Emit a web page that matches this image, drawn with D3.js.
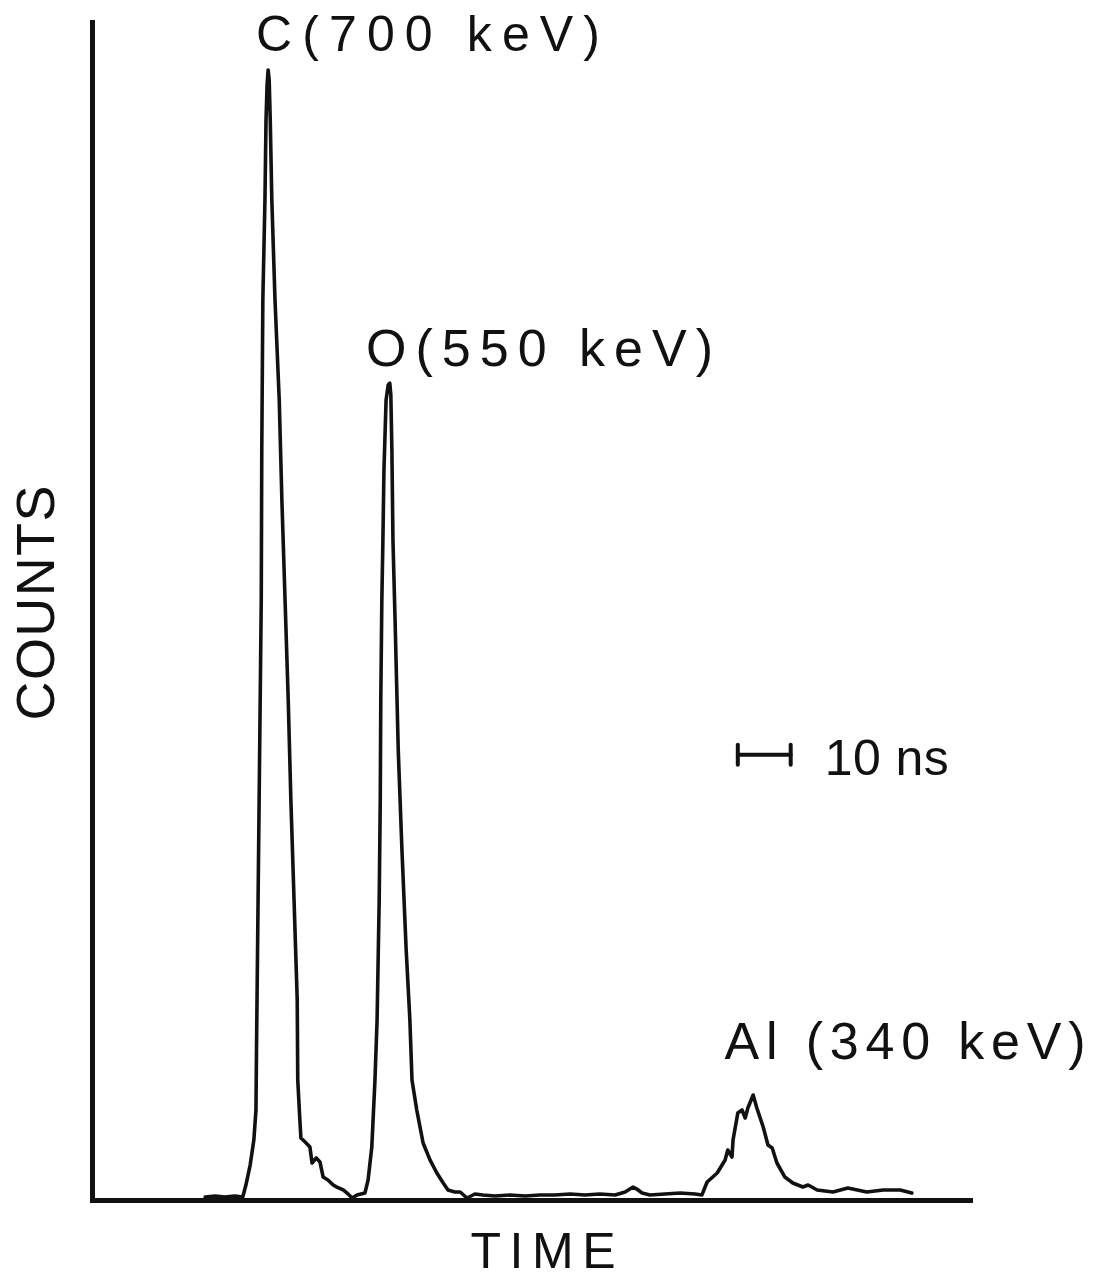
<!DOCTYPE html>
<html>
<head>
<meta charset="utf-8">
<script src="https://cdn.jsdelivr.net/npm/d3@7"></script>
<style>
  html, body { margin: 0; padding: 0; background: #fff; }
  svg { display: block; }
  text { font-family: "Liberation Sans", "DejaVu Sans", sans-serif; fill: #111; }
</style>
</head>
<body>
<svg id="chart" width="1104" height="1280"></svg>
<script>
// Time-of-flight spectrum: time in ns, counts in arbitrary units
const timeNs = [
  21.4, 23.3, 25.1, 27.0, 28.5, 29.1, 29.9, 30.6, 31.0, 31.1, 31.4, 31.6, 31.8, 32.0, 32.1, 32.3,
  32.7, 32.9, 33.1, 33.3, 33.5, 33.7, 34.0, 34.6, 35.4, 35.9, 36.5, 37.1, 37.6, 38.2, 38.8, 38.9,
  39.3, 39.5, 40.3, 41.2, 41.6, 42.4, 43.1, 43.7, 44.6, 45.6, 46.3, 47.5, 48.4, 49.2, 50.1, 51.6,
  52.2, 52.9, 53.5, 53.9, 54.3, 54.5, 54.6, 54.8, 55.0, 55.2, 55.6, 56.0, 56.3, 56.5, 56.7, 56.9,
  57.3, 57.9, 58.6, 59.4, 60.1, 60.5, 61.4, 62.6, 63.9, 65.2, 66.4, 67.3, 68.6, 69.6, 70.9, 72.4,
  73.9, 76.2, 79.0, 81.9, 84.7, 87.5, 90.4, 93.2, 96.0, 98.9, 100.8, 101.7, 102.3, 103.0, 104.0, 105.5,
  108.3, 111.2, 114.0, 115.3, 116.3, 118.2, 119.7, 120.2, 121.0, 121.2, 122.1, 122.9, 123.5, 124.0, 125.0, 125.7,
  126.9, 127.8, 128.6, 129.5, 131.0, 132.5, 134.4, 135.4, 137.1, 140.1, 142.9, 146.5, 149.6, 152.8, 155.0
];
const counts = [
  2.5, 3.4, 2.5, 3.4, 2.5, 12.7, 29.7, 50.9, 76.4, 127.3, 254.7, 339.6, 424.4, 509.3, 636.7, 764.0,
  848.9, 916.8, 946.5, 959.3, 950.8, 916.8, 848.9, 764.0, 679.1, 594.2, 509.3, 424.4, 339.6, 254.7, 169.8, 101.9,
  67.9, 52.6, 49.2, 45.0, 31.4, 35.7, 32.3, 19.5, 17.0, 12.7, 11.0, 8.5, 5.1, 1.7, 4.2, 5.9,
  17.0, 45.0, 101.9, 152.8, 254.7, 339.6, 424.4, 509.3, 560.3, 619.7, 679.1, 691.9, 693.5, 683.4, 636.7, 560.3,
  492.4, 382.0, 297.1, 212.2, 152.8, 101.9, 76.4, 48.4, 34.0, 22.9, 14.4, 8.5, 6.8, 6.8, 1.7, 5.1,
  4.2, 3.4, 4.2, 3.4, 4.2, 4.2, 5.1, 4.2, 5.1, 4.2, 6.8, 9.3, 11.0, 9.3, 5.9, 4.2,
  5.1, 5.9, 5.1, 4.2, 15.3, 22.9, 34.0, 42.4, 36.5, 50.9, 73.9, 76.4, 69.6, 78.1, 89.1, 78.1,
  62.0, 46.7, 44.1, 31.4, 19.5, 14.4, 11.0, 12.7, 8.5, 6.8, 10.2, 6.8, 8.5, 8.5, 5.9
];

// Peak labels: text and the (time, counts) point each one sits above
const peakLabels = ["C(700 keV)", "O(550 keV)", "Al (340 keV)"];
const labelTime = [31.0, 51.8, 119.6];
const labelCounts = [975, 708, 120];

// Time scale bar
const scaleBarNs = 10;
const scaleBarStart = 122.1;
const scaleBarCounts = 378;
const scaleBarLabel = "10 ns";

const svg = d3.select("#chart");

const x = d3.scaleLinear().domain([0, 166]).range([92, 970]);
const y = d3.scaleLinear().domain([0, 1000]).range([1200, 22]);

// Axes: bare lines, no ticks
const axisStyle = g => g.selectAll("path.domain")
  .attr("stroke", "#111").attr("stroke-width", 5).attr("stroke-linecap", "square");

svg.append("g")
  .attr("transform", `translate(0,${y(0)})`)
  .call(d3.axisBottom(x).tickValues([]).tickSizeOuter(0))
  .call(axisStyle);

svg.append("g")
  .attr("transform", `translate(${x(0)},0)`)
  .call(d3.axisLeft(y).tickValues([]).tickSizeOuter(0))
  .call(axisStyle);

// Spectrum trace
const pts = timeNs.map((t, i) => [t, counts[i]]);
svg.append("path")
  .datum(pts)
  .attr("fill", "none")
  .attr("stroke", "#111")
  .attr("stroke-width", 3.6)
  .attr("stroke-linejoin", "round")
  .attr("stroke-linecap", "round")
  .attr("d", d3.line().x(d => x(d[0])).y(d => y(d[1])));

// Peak labels
const labelWidths = [344, 347, 361];
const labelSizes = [50, 52, 52];
peakLabels.forEach((lab, i) => {
  svg.append("text")
    .attr("x", x(labelTime[i]))
    .attr("y", y(labelCounts[i]))
    .attr("font-size", labelSizes[i])
    .attr("textLength", labelWidths[i])
    .attr("lengthAdjust", "spacing")
    .text(lab);
});

// 10 ns scale bar
const sbY = y(scaleBarCounts);
const sbX0 = x(scaleBarStart), sbX1 = x(scaleBarStart + scaleBarNs);
const sb = svg.append("g").attr("stroke", "#111").attr("stroke-linecap", "round");
sb.append("line").attr("x1", sbX0).attr("x2", sbX1).attr("y1", sbY).attr("y2", sbY).attr("stroke-width", 4);
sb.append("line").attr("x1", sbX0).attr("x2", sbX0).attr("y1", sbY - 10).attr("y2", sbY + 10).attr("stroke-width", 4);
sb.append("line").attr("x1", sbX1).attr("x2", sbX1).attr("y1", sbY - 10).attr("y2", sbY + 10).attr("stroke-width", 4);
svg.append("text")
  .attr("x", sbX1 + 34)
  .attr("y", sbY + 20)
  .attr("font-size", 50)
  .attr("textLength", 124)
  .attr("lengthAdjust", "spacing")
  .text(scaleBarLabel);

// Axis titles
svg.append("text")
  .attr("x", 543).attr("y", 1268)
  .attr("text-anchor", "middle")
  .attr("font-size", 50)
  .attr("textLength", 145)
  .attr("lengthAdjust", "spacing")
  .text("TIME");

svg.append("text")
  .attr("transform", "translate(54,603) rotate(-90)")
  .attr("text-anchor", "middle")
  .attr("font-size", 54)
  .attr("textLength", 235)
  .attr("lengthAdjust", "spacing")
  .text("COUNTS");
</script>
</body>
</html>
